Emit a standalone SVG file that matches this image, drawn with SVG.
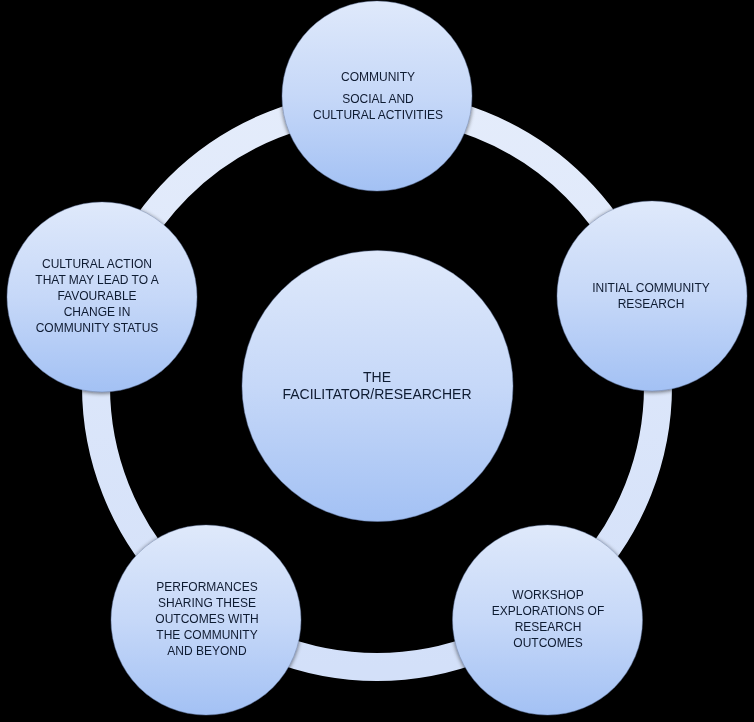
<svg xmlns="http://www.w3.org/2000/svg" width="754" height="722" viewBox="0 0 754 722">
<defs>
<linearGradient id="nodeGrad" x1="0" y1="0" x2="0" y2="1">
<stop offset="0" stop-color="#dfe9fb"/>
<stop offset="0.5" stop-color="#c6d8f8"/>
<stop offset="1" stop-color="#a3c1f4"/>
</linearGradient>
<linearGradient id="ringGrad" x1="0" y1="0" x2="0" y2="1">
<stop offset="0" stop-color="#e4ecfb"/>
<stop offset="1" stop-color="#d3e0f9"/>
</linearGradient>
<filter id="sh" x="-10%" y="-10%" width="120%" height="120%">
<feGaussianBlur in="SourceAlpha" stdDeviation="2"/>
<feOffset dx="0" dy="1" result="b"/>
<feComponentTransfer><feFuncA type="linear" slope="0.6"/></feComponentTransfer>
<feMerge><feMergeNode/><feMergeNode in="SourceGraphic"/></feMerge>
</filter>
</defs>
<style>
.node{fill:url(#nodeGrad);stroke:#5a6e94;stroke-width:0.6;stroke-opacity:0.6}
.lbl{font-family:"Liberation Sans",Arial,sans-serif;font-size:12px;fill:#0f1a30;text-anchor:middle}
.big{font-size:14px}
</style>
<rect width="754" height="722" fill="#000"/>
<g id="connectors">
<circle cx="377" cy="386" r="281" fill="none" stroke="url(#ringGrad)" stroke-width="28"/>
</g>
<g id="center" filter="url(#sh)">
<circle class="node" cx="377.5" cy="386" r="135.5"/>
<text class="lbl big" x="377" y="382">THE</text>
<text class="lbl big" x="377" y="399">FACILITATOR/RESEARCHER</text>
</g>
<g id="n-top" filter="url(#sh)">
<circle class="node" cx="377" cy="96" r="95"/>
<text class="lbl" x="378" y="81">COMMUNITY</text>
<text class="lbl" x="378" y="103">SOCIAL AND</text>
<text class="lbl" x="378" y="119">CULTURAL ACTIVITIES</text>
</g>
<g id="n-right" filter="url(#sh)">
<circle class="node" cx="652" cy="296" r="95"/>
<text class="lbl" x="651" y="292">INITIAL COMMUNITY</text>
<text class="lbl" x="651" y="308">RESEARCH</text>
</g>
<g id="n-bottomright" filter="url(#sh)">
<circle class="node" cx="547.5" cy="620" r="95"/>
<text class="lbl" x="548" y="599">WORKSHOP</text>
<text class="lbl" x="548" y="615">EXPLORATIONS OF</text>
<text class="lbl" x="548" y="631">RESEARCH</text>
<text class="lbl" x="548" y="647">OUTCOMES</text>
</g>
<g id="n-bottomleft" filter="url(#sh)">
<circle class="node" cx="206" cy="620" r="95"/>
<text class="lbl" x="207" y="591">PERFORMANCES</text>
<text class="lbl" x="207" y="607">SHARING THESE</text>
<text class="lbl" x="207" y="623">OUTCOMES WITH</text>
<text class="lbl" x="207" y="639">THE COMMUNITY</text>
<text class="lbl" x="207" y="655">AND BEYOND</text>
</g>
<g id="n-left" filter="url(#sh)">
<circle class="node" cx="102" cy="297" r="95"/>
<text class="lbl" x="97" y="268">CULTURAL ACTION</text>
<text class="lbl" x="97" y="284">THAT MAY LEAD TO A</text>
<text class="lbl" x="97" y="300">FAVOURABLE</text>
<text class="lbl" x="97" y="316">CHANGE IN</text>
<text class="lbl" x="97" y="332">COMMUNITY STATUS</text>
</g>
</svg>
